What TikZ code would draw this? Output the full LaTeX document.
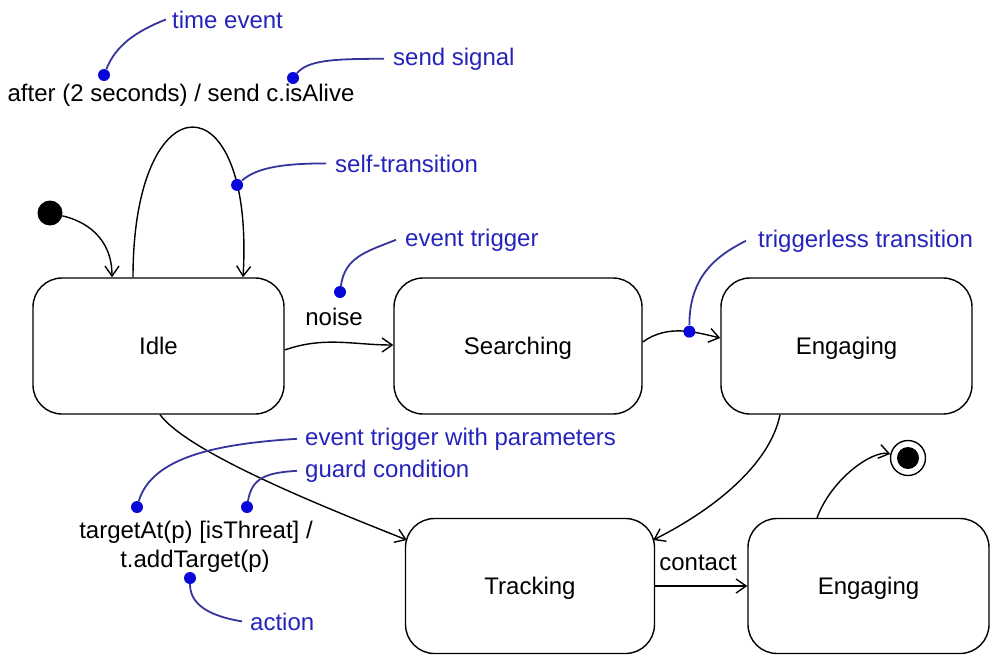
\documentclass[tikz,border=0pt]{standalone}
\usepackage{fontspec}
\setmainfont{Liberation Sans}
\usepackage{tikz}
\usepackage{xcolor}
\usetikzlibrary{arrows.meta, positioning, calc}
\definecolor{NoteBlue}{HTML}{2424BC}
\definecolor{LeadBlue}{HTML}{34349C}
\definecolor{DotBlue}{HTML}{0808D8}

\begin{document}
\begin{tikzpicture}[x=1pt, y=-1pt,
    state/.style={draw, line width=1.4pt, rounded corners=29pt, minimum width=250pt, minimum height=136pt, text height=17pt, text depth=0pt, font=\fontsize{24}{28}\selectfont},
    lbl/.style={font=\fontsize{24}{28}\selectfont, inner sep=0pt},
    note/.style={lbl, NoteBlue, anchor=base west},
    dot/.style={circle, fill=DotBlue, minimum size=12pt, inner sep=0pt},
    lead/.style={LeadBlue, line width=1.8pt},
    trans/.style={line width=1.4pt, -{Straight Barb[length=10pt, width=14pt, line width=1.4pt]}}
]
\useasboundingbox (0,0) rectangle (990,656);

% === States ===
\node[state, minimum width=251pt] (idle) at (158.5,346) {Idle};
\node[state, minimum width=248pt] (searching) at (518,346) {Searching};
\node[state, minimum width=251pt] (engaging) at (846.5,346) {Engaging};
\node[state, minimum width=249pt, minimum height=135pt] (tracking) at (530,586) {Tracking};
\node[state, minimum width=241pt, minimum height=135pt] (engagingB) at (868.5,586) {Engaging};

% Pseudo states
\node[circle, fill=black, minimum size=25pt, inner sep=0pt] (init) at (50,213) {};
\node[circle, draw, line width=1.4pt, minimum size=35pt, inner sep=0pt] (final) at (908,458) {};
\node[circle, fill=black, minimum size=22pt, inner sep=0pt] (finalcore) at (final) {};

% === Transitions ===
\draw[trans] (init) .. controls +(35,8) and +(0,-40) .. ([xshift=-46.5pt]idle.north);
\draw[trans] ([xshift=-25.5pt]idle.north) .. controls +(0,-200) and +(12,-200) .. node[pos=0.81, dot] (loopdot) {} ([xshift=84.5pt]idle.north);
\draw[trans] ([shift={(0,4)}]idle.east) .. controls +(40,-14) and +(-40,0) .. ([shift={(0,-1)}]searching.west);
\draw[trans] ([shift={(0,-4)}]searching.east) .. controls +(25,-18) and +(-25,-6) .. node[pos=0.6, dot] (freedot) {} ([shift={(0,-8)}]engaging.west);
\draw[trans] ([xshift=-66.5pt]engaging.south) .. controls +(-10,50) and +(60,-30) .. ([shift={(-2,-46)}]tracking.east);
\draw[trans] ([xshift=1.5pt]idle.south) .. controls +(30,40) and +(-70,-28) .. ([shift={(2,-46)}]tracking.west);
\draw[trans] (tracking) -- (engagingB);
\draw[trans] ([xshift=-51.5pt]engagingB.north) .. controls +(15,-40) and +(-35,-8) .. (final);

% Transition labels
\node[lbl, anchor=base] (looplabel) at (181,101) {after (2 seconds) / send c.isAlive};
\node[lbl, anchor=base] (noise) at (334,325) {noise};
\node[lbl, anchor=base] (guardlabel) at (196,538) {targetAt(p) [isThreat] /};
\node[lbl, anchor=base] (actlabel) at (195,567) {t.addTarget(p)};
\node[lbl, anchor=base] (contact) at (698,570) {contact};

% === Notes ===
\node[note] (timenote) at (172,28) {time event};
\node[note] (signalnote) at (393,65) {send signal};
\node[note] (loopnote) at (335,172) {self-transition};
\node[note] (trignote) at (405,246) {event trigger};
\node[note] (freenote) at (758,247) {triggerless transition};
\node[note] (paramnote) at (305,445) {event trigger with parameters};
\node[note] (guardnote) at (305,477) {guard condition};
\node[note] (actnote) at (250,630) {action};

\node[dot] (timedot) at (104,75) {};
\node[dot] (signaldot) at (293,78) {};
\node[dot] (trigdot) at (340,292) {};
\node[dot] (paramdot) at (137,507) {};
\node[dot] (guarddot) at (247,507) {};
\node[dot] (actdot) at (190,578) {};

% Leaders
\draw[lead] (timedot) .. controls +(12,-30) and +(-30,12) .. ([xshift=-6pt]timenote.west);
\draw[lead] (signaldot) .. controls +(15,-18) and +(-50,0) .. ([xshift=-9pt]signalnote.west);
\draw[lead] (loopdot) .. controls +(20,-18) and +(-40,0) .. ([xshift=-9pt]loopnote.west);
\draw[lead] (trigdot) .. controls +(5,-35) and +(-30,12) .. ([xshift=-9pt]trignote.west);
\draw[lead] (freedot) .. controls +(0,-55) and +(-30,15) .. ([xshift=-12pt]freenote.west);
\draw[lead] (paramdot) .. controls +(15,-50) and +(-80,5) .. ([xshift=-8pt]paramnote.west);
\draw[lead] (guarddot) .. controls +(5,-30) and +(-30,2) .. ([xshift=-8pt]guardnote.west);
\draw[lead] (actdot) .. controls +(0,28) and +(-30,-5) .. ([xshift=-8pt]actnote.west);
\end{tikzpicture}
\end{document}
